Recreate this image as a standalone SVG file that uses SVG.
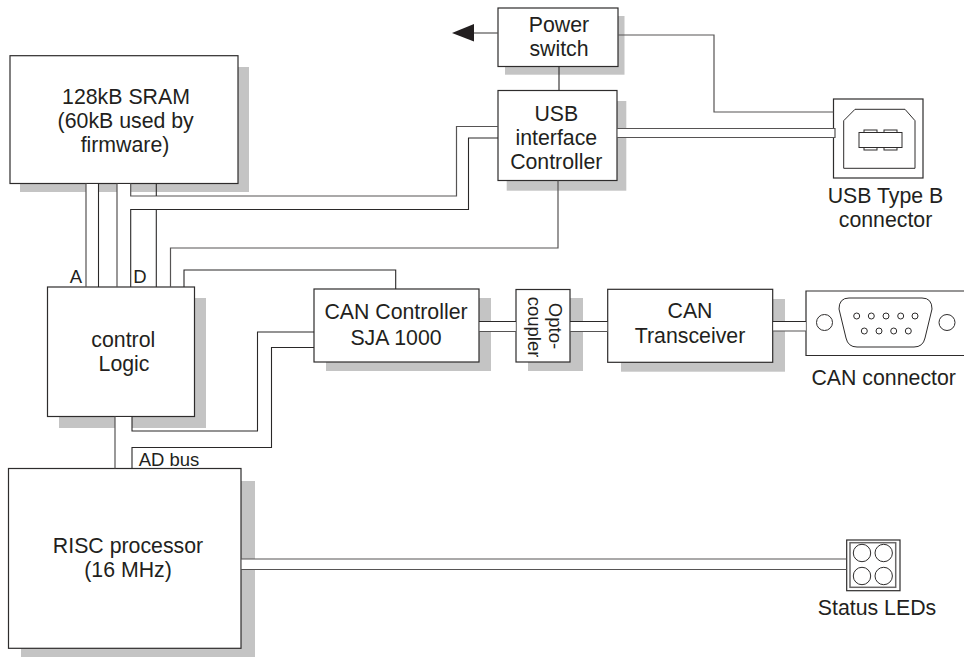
<svg xmlns="http://www.w3.org/2000/svg" width="964" height="657" viewBox="0 0 964 657">
<style>
text{font-family:"Liberation Sans",Arial,sans-serif;font-size:21.300px;fill:#231f20;text-anchor:middle}
text.m{font-size:18.500px}
.s{fill:#c4c4c4;stroke:none}
.b{fill:#fff;stroke:#2e2c2c;stroke-width:1.200}
.g{fill:none;stroke:#565454;stroke-width:1.200}
.l{fill:none;stroke:#2a2828;stroke-width:1.100}
.d{fill:none;stroke:#2e2c2c;stroke-width:1}
.w{fill:#fff;stroke:#2e2c2c;stroke-width:1}
.u{fill:#fff;stroke:none}
</style>
<rect width="964" height="657" fill="#fff"/>
<g id="shadows">
<rect class="s" x="20" y="67" width="229" height="125"/>
<rect class="s" x="59" y="298" width="147" height="130"/>
<rect class="s" x="21" y="481" width="234" height="176"/>
<rect class="s" x="505" y="16" width="119.500" height="58.700"/>
<rect class="s" x="506.700" y="101" width="119.600" height="89.700"/>
<rect class="s" x="326" y="298" width="165" height="73"/>
<rect class="s" x="528" y="298" width="55" height="73"/>
<rect class="s" x="621" y="299" width="164" height="72.700"/>
</g>
<g id="sram"><rect class="b" x="10" y="55.700" width="228" height="127.800"/>
<text x="126" y="104">128kB SRAM</text><text x="125.700" y="128">(60kB used by</text><text x="125" y="152">firmware)</text></g>
<g id="control-logic"><rect class="b" x="47.500" y="287" width="147" height="129.500"/>
<text x="123.300" y="346.700">control</text><text x="124" y="371">Logic</text></g>
<g id="risc"><rect class="b" x="8.500" y="468.500" width="232.500" height="179.800"/>
<text x="128" y="552.700">RISC processor</text><text x="128" y="576.700">(16 MHz)</text></g>
<g id="power-switch"><rect class="b" x="498" y="8" width="120" height="58.500"/>
<text x="559" y="32">Power</text><text x="559" y="55.700">switch</text></g>
<g id="usb-controller"><rect class="b" x="498" y="90.500" width="119" height="90"/>
<text x="556.300" y="120.700">USB</text><text x="556.300" y="144.700">interface</text><text x="556.300" y="168.700">Controller</text></g>
<g id="can-controller"><rect class="b" x="314" y="289" width="165" height="73"/>
<text x="396" y="319.300">CAN Controller</text><text x="396" y="345">SJA 1000</text></g>
<g id="optocoupler"><rect class="b" x="516" y="289.500" width="54" height="72.500"/>
<text class="m" transform="translate(549.300,326) rotate(90)">Opto-</text><text class="m" transform="translate(527.700,327) rotate(90)">coupler</text></g>
<g id="can-transceiver"><rect class="b" x="607.700" y="289.300" width="165" height="73"/>
<text x="690" y="318.300">CAN</text><text x="690" y="343.300">Transceiver</text></g>
<g id="usb-connector"><rect class="b" x="833.500" y="99" width="89.500" height="79"/>
<path class="d" d="M843.700 168.300V120.700L855 109.300H905L915 120.700V168.300Z"/>
<rect class="w" x="864" y="130" width="13" height="20"/><rect class="w" x="884" y="130" width="13" height="20"/>
<rect class="w" x="859" y="132.500" width="43" height="15"/>
<text x="885.500" y="202.700">USB Type B</text><text x="885.500" y="226.700">connector</text></g>
<g id="can-connector">
<path class="b" d="M964 291H806V355.500H964"/>
<circle class="d" cx="824.500" cy="322.500" r="8"/><circle class="d" cx="947" cy="322.500" r="8"/>
<path class="d" d="M849 298H922Q932 298 932 309L925 338Q923 347 914 347H857Q848 347 846 338L839 309Q839 298 849 298Z"/>
<g class="d"><circle cx="856.700" cy="316" r="3"/><circle cx="871.300" cy="316" r="3"/><circle cx="886" cy="316" r="3"/><circle cx="900.700" cy="316" r="3"/><circle cx="915" cy="316" r="3"/>
<circle cx="864.300" cy="331" r="3"/><circle cx="879" cy="331" r="3"/><circle cx="893.700" cy="331" r="3"/><circle cx="908.300" cy="331" r="3"/></g>
<text x="883.700" y="385">CAN connector</text></g>
<g id="status-leds"><rect class="b" x="846.700" y="540" width="53.300" height="50.700"/>
<rect x="850" y="542.700" width="45.700" height="44.600" fill="none" stroke="#6a6868" stroke-width="1.500"/>
<circle class="d" cx="862" cy="553" r="8.700"/><circle class="d" cx="883.700" cy="553" r="8.700"/><circle class="d" cx="862" cy="576" r="8.700"/><circle class="d" cx="883.700" cy="576" r="8.700"/>
<text x="877" y="615">Status LEDs</text></g>
<g id="labels">
<text class="m" x="76" y="283">A</text>
<text class="m" x="140" y="283">D</text>
<text class="m" x="169" y="466">AD bus</text></g>
<g id="connectors">
<rect class="u" x="86" y="184" width="12.500" height="14"/>
<rect class="u" x="117" y="184" width="13.700" height="14"/>
<rect class="u" x="115" y="417" width="17" height="12"/>
<rect class="u" x="479.700" y="321.500" width="36" height="10"/>
<rect class="u" x="570.700" y="321.500" width="36.500" height="10"/>
<rect class="u" x="773.300" y="321.500" width="32.500" height="9.500"/>
<rect class="u" x="617.700" y="128.500" width="217" height="9"/>
<rect class="u" x="241.700" y="559" width="604" height="10.500"/>
<path class="g" d="M86 183.500V287M117 183.500V287"/>
<path class="l" d="M98.500 183.500V287"/>
<path class="g" d="M130.700 183.500V196H456.500V126.500H498"/>
<path class="l" d="M156.300 183.500V196"/>
<path class="l" d="M130.700 287V209.500H468.500V138H498"/>
<path class="l" d="M156.300 287V209.500"/>
<path class="g" d="M170.500 287V248H558V180.500"/>
<path class="l" d="M184 287V270H395.700V289"/>
<path class="g" d="M115 416.500V468.500"/>
<path class="l" d="M132 416.500V431H257.500V332H314"/>
<path class="l" d="M132 468.500V447.500H271.500V347.500H314"/>
<path class="l" d="M479 321.500H516M570 321.500H607.700"/>
<path class="g" d="M479 331.500H516M570 331.500H607.700"/>
<path class="l" d="M772.700 321.500H806"/><path class="g" d="M772.700 331H806"/>
<path class="l" d="M559 66.500V90.500"/>
<path class="g" d="M498 33H470"/>
<polygon points="452,33 474,24 474,41.500" fill="#231f20"/>
<path class="g" d="M618 35H714V112H833.500"/>
<path class="g" d="M617 128.500H835V137.500H617"/>
<path class="g" d="M241 559H846.700M241 569.500H846.700"/>
</g>
</svg>
